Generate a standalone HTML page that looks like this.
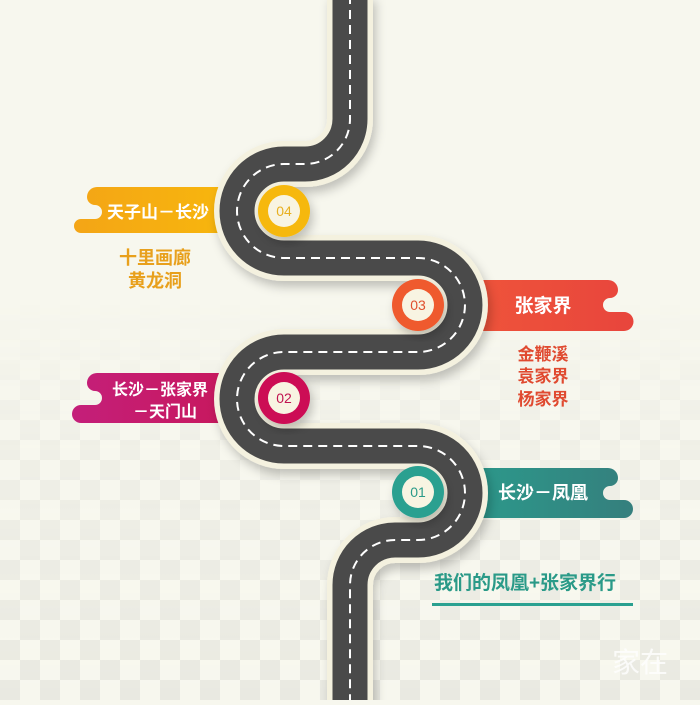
<!DOCTYPE html>
<html><head><meta charset="utf-8"><style>
html,body{margin:0;padding:0;}
body{width:700px;height:700px;overflow:hidden;background:#f7f7ee;font-family:"Liberation Sans","Noto Sans CJK SC",sans-serif;}
</style></head><body>
<svg width="700" height="700" viewBox="0 0 700 700" xmlns="http://www.w3.org/2000/svg">
<defs>
<pattern id="chk" width="40" height="40" patternUnits="userSpaceOnUse">
<rect width="40" height="40" fill="#f7f7ee"/>
<rect width="20" height="20" fill="#e9e9e1"/>
<rect x="20" y="20" width="20" height="20" fill="#e9e9e1"/>
</pattern>
<linearGradient id="fade" x1="0" y1="0" x2="0" y2="1">
<stop offset="0" stop-color="#fff" stop-opacity="0"/>
<stop offset="0.35" stop-color="#fff" stop-opacity="0.55"/>
<stop offset="1" stop-color="#fff" stop-opacity="1"/>
</linearGradient>
<mask id="m"><rect x="0" y="300" width="700" height="400" fill="url(#fade)"/></mask>
<linearGradient id="gy" x1="0" x2="1"><stop offset="0" stop-color="#f4a516"/><stop offset="1" stop-color="#f8b80c"/></linearGradient>
<linearGradient id="go" x1="0" x2="1"><stop offset="0" stop-color="#f0573a"/><stop offset="1" stop-color="#e8453c"/></linearGradient>
<linearGradient id="gm" x1="0" x2="1"><stop offset="0" stop-color="#c41f7a"/><stop offset="1" stop-color="#c8175a"/></linearGradient>
<linearGradient id="gt" x1="0" x2="1"><stop offset="0" stop-color="#2a9e8e"/><stop offset="1" stop-color="#357f7d"/></linearGradient>
<filter id="sh" x="-20%" y="-20%" width="140%" height="140%"><feDropShadow dx="3" dy="6" stdDeviation="5" flood-color="#000" flood-opacity="0.22"/></filter>
</defs>
<rect x="0" y="300" width="700" height="400" fill="url(#chk)" mask="url(#m)"/>

<path d="M245,187 H97 A10,10 0 0 0 87,197 A8,8 0 0 0 95,205 A7,7 0 0 1 95,219 H81 A7,7 0 0 0 81,233 H245 Z" fill="url(#gy)"/>
<path d="M245,373 H97 A10,10 0 0 0 87,383 A8,8 0 0 0 95,391 A7,7 0 0 1 95,405 H81 A9,9 0 0 0 81,423 H245 Z" fill="url(#gm)"/>
<path d="M440,280 H608 A10,10 0 0 1 618,290 A8,8 0 0 1 610,298 A7,7 0 0 0 610,312 H624 A9.5,9.5 0 0 1 624,331 H440 Z" fill="url(#go)"/>
<path d="M440,468 H608 A10,10 0 0 1 618,478 A8,8 0 0 1 610,486 A7,7 0 0 0 610,500 H624 A9,9 0 0 1 624,518 H440 Z" fill="url(#gt)"/>

<g fill="none" stroke-linecap="butt">
<path d="M350,-5 V119 A45,45 0 0 1 305,164 H284 A47,47 0 0 0 284,258 H418 A47,47 0 0 1 418,352 H284 A47,47 0 0 0 284,446 H418 A47,47 0 0 1 418,540 H395 A45,45 0 0 0 350,585 V705" stroke="#f4f1df" stroke-width="46" filter="url(#sh)"/>
<path d="M350,-5 V119 A45,45 0 0 1 305,164 H284 A47,47 0 0 0 284,258 H418 A47,47 0 0 1 418,352 H284 A47,47 0 0 0 284,446 H418 A47,47 0 0 1 418,540 H395 A45,45 0 0 0 350,585 V705" stroke="#4a4a4a" stroke-width="35"/>
<path d="M350,-5 V119 A45,45 0 0 1 305,164 H284 A47,47 0 0 0 284,258 H418 A47,47 0 0 1 418,352 H284 A47,47 0 0 0 284,446 H418 A47,47 0 0 1 418,540 H395 A45,45 0 0 0 350,585 V705" stroke="#fff" stroke-width="2" stroke-dasharray="9,6"/>
</g>

<g font-family="Liberation Sans, sans-serif" font-size="14" text-anchor="middle">
<circle cx="284" cy="211" r="26" fill="#f6b80a" filter="url(#sh)"/><circle cx="284" cy="211" r="16" fill="#f8f4e2"/><text x="284" y="216" fill="#e8b020">04</text>
<circle cx="418" cy="305" r="26" fill="#ef5a2e" filter="url(#sh)"/><circle cx="418" cy="305" r="16" fill="#f8f4e2"/><text x="418" y="310" fill="#e0502e">03</text>
<circle cx="284" cy="398" r="26" fill="#cc1054" filter="url(#sh)"/><circle cx="284" cy="398" r="16" fill="#f8f4e2"/><text x="284" y="403" fill="#c01450">02</text>
<circle cx="418" cy="492" r="26" fill="#2aa090" filter="url(#sh)"/><circle cx="418" cy="492" r="16" fill="#f8f4e2"/><text x="418" y="497" fill="#2a9a88">01</text>
</g>

<g font-family="Liberation Sans, Noto Sans CJK SC, sans-serif" font-weight="bold" text-anchor="middle">
<text x="158" y="218" font-size="17" fill="#fff">天子山－长沙</text>
<text x="155" y="264" font-size="18" fill="#e8a01c">十里画廊</text>
<text x="155" y="287" font-size="18" fill="#e8a01c">黄龙洞</text>
<text x="543" y="312" font-size="19" fill="#fff">张家界</text>
<text x="543" y="360" font-size="17" fill="#e04a30">金鞭溪</text>
<text x="543" y="382" font-size="17" fill="#e04a30">袁家界</text>
<text x="543" y="405" font-size="17" fill="#e04a30">杨家界</text>
<text x="160" y="395" font-size="16" fill="#fff">长沙－张家界</text>
<text x="165" y="417" font-size="16" fill="#fff">－天门山</text>
<text x="543" y="499" font-size="18" fill="#fff">长沙－凤凰</text>
<text x="525" y="589" font-size="19" fill="#2a9a88">我们的凤凰+张家界行</text>
</g>
<rect x="432" y="603" width="201" height="3" fill="#2aa090"/>
<text x="640" y="672" font-family="Noto Sans CJK SC, sans-serif" font-size="28" fill="#fff" opacity="0.8" text-anchor="middle">家在</text>
</svg>
</body></html>
